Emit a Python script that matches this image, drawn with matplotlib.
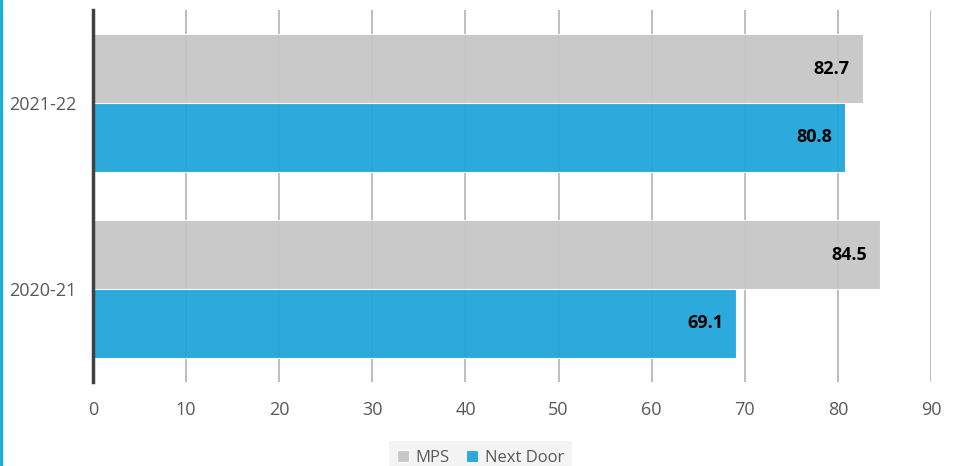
import matplotlib
matplotlib.use('Agg')
import matplotlib.pyplot as plt
from matplotlib.patches import Rectangle
import numpy as np

# Data
years = ['2020-21', '2021-22']
mps = [84.5, 82.7]
next_door = [69.1, 80.8]
series_names = ['MPS', 'Next Door']
xticks = [0, 10, 20, 30, 40, 50, 60, 70, 80, 90]

plt.rcParams['font.family'] = ['Open Sans', 'DejaVu Sans']

fig = plt.figure(figsize=(9.57, 4.66), dpi=100)
ax = fig.add_axes([0.0972, 0.1803, 0.8756, 0.7982])

gray = '#C6C6C6'
blue = '#1FA6D9'
h = 0.37
y = np.arange(len(years))

b1 = ax.barh(y + h / 2, mps, height=h, color=gray, alpha=0.95, zorder=3,
             edgecolor='white', linewidth=0.8, label=series_names[0])
b2 = ax.barh(y - h / 2, next_door, height=h, color=blue, alpha=0.95, zorder=3,
             edgecolor='white', linewidth=0.8, label=series_names[1])

# Value labels inside the bar ends
for bars in (b1, b2):
    for rect in bars:
        w = rect.get_width()
        ax.text(w - 1.4, rect.get_y() + rect.get_height() / 2, f'{w:.1f}',
                ha='right', va='center', fontsize=13, fontweight='bold',
                color='black', zorder=4)

ax.set_xlim(0, 90)
ax.set_ylim(-0.5, 1.5)
ax.set_xticks(xticks)
ax.set_yticks(y)
ax.set_yticklabels(years)
ax.tick_params(axis='both', length=0, labelsize=13, labelcolor='#595959')
ax.tick_params(axis='x', pad=14)
ax.tick_params(axis='y', pad=12)

ax.grid(True, axis='x', color='#BFBFBF', linewidth=1.5, zorder=1)
for s in ['top', 'right', 'bottom']:
    ax.spines[s].set_visible(False)
ax.spines['left'].set_color('#404040')
ax.spines['left'].set_linewidth(2.5)
ax.spines['left'].set_zorder(5)

leg = fig.legend(loc='center', bbox_to_anchor=(0.502, 0.018), ncol=2,
                 frameon=True, fancybox=False, fontsize=12, handlelength=0.7,
                 handleheight=0.7, handletextpad=0.4, columnspacing=1.0,
                 borderpad=0.5)
leg.get_frame().set_facecolor('#F2F2F2')
leg.get_frame().set_edgecolor('none')
for t in leg.get_texts():
    t.set_color('#595959')

# Thin cyan border on the left edge
fig.add_artist(Rectangle((0, 0), 0.0025, 1, transform=fig.transFigure,
                         color='#1AB0D8', zorder=10))

fig.savefig('out.png', dpi=100)
